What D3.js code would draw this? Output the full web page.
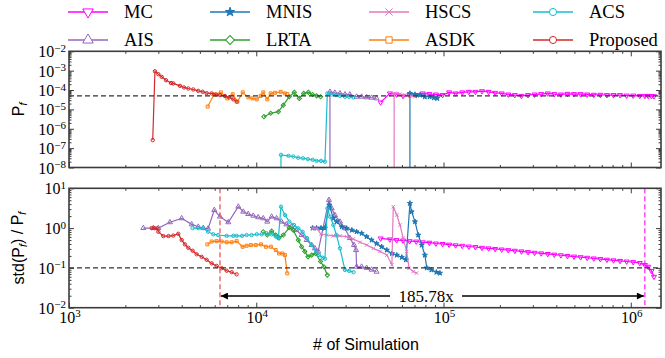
<!DOCTYPE html>
<html>
<head>
<meta charset="utf-8">
<script src="https://cdn.jsdelivr.net/npm/d3@7"></script>
<style>
  body { margin: 0; background: #fff; }
  svg { display: block; }
</style>
</head>
<body>
<svg id="chart" width="665" height="358"></svg>
<script>
// legend order (matplotlib fills the 4 columns top-down)
const methods = ["MC", "AIS", "MNIS", "LRTA", "HSCS", "ASDK", "ACS", "Proposed"];
const colors = {MC: "#ff00ff", AIS: "#9467bd", MNIS: "#1f77b4", LRTA: "#2ca02c",
                HSCS: "#e377c2", ASDK: "#ff7f0e", ACS: "#17becf", Proposed: "#d62728"};

// [# of simulation, Pf]   (0 = no failure found yet)
const pfProposed = [[2800,2.6e-7],[2877,9.3e-4],[3000,6.6e-4],[3126,4.8e-4],[3296,3.2e-4],[3504,2.3e-4],[3605,2.2e-4],[3913,1.65e-4],[4111,1.36e-4],[4335,1.2e-4],[4609,1.07e-4],[4898,9.1e-5],[5175,8.1e-5],[5432,6.9e-5],[5777,6.7e-5],[6094,5.9e-5],[6400,5.5e-5],[6805,4.9e-5],[7175,4.2e-5],[7535,3.3e-5],[7857,2.5e-5]];
const pfASDK = [[5503,1.4e-5],[5950,5.9e-5],[6470,7.6e-5],[7000,3.7e-5],[7480,6.1e-5],[7930,2.5e-5],[8470,7.6e-5],[9080,4.2e-5],[9550,3.7e-5],[10060,3.3e-5],[10560,5.0e-5],[10900,7.6e-5],[11450,3.3e-5],[11940,6.7e-5],[12590,7.2e-5],[13500,8.1e-5],[14230,6.7e-5],[14640,6.2e-5]];
const pfLRTA = [[10990,4.2e-6],[11940,6.3e-6],[13130,7.6e-6],[13940,1.66e-5],[15010,4.5e-5],[15960,7.6e-5],[16980,3.7e-5],[17920,6.7e-5],[18990,7.6e-5],[19990,5.9e-5],[21000,5.0e-5],[22050,4.5e-5]];
const pfACS = [[13000,0],[13550,4.5e-8],[14870,4.0e-8],[15770,3.7e-8],[16740,3.2e-8],[17770,3.0e-8],[18860,2.7e-8],[20010,2.5e-8],[21000,2.2e-8],[22170,2.2e-8],[23270,2.0e-8],[23960,6.7e-5],[25270,5.9e-5],[26640,5.5e-5],[27990,5.0e-5],[29760,4.5e-5],[31370,4.5e-5],[32960,4.2e-5]];
const pfAIS = [[24200,0],[24750,8.1e-5],[26300,7.2e-5],[27990,6.7e-5],[29760,5.9e-5],[31620,5.9e-5],[34350,4.5e-5],[36530,4.5e-5],[38830,4.2e-5],[41290,4.0e-5],[43900,3.7e-5]];
const pfMNIS = [[63500,0],[66170,6.7e-5],[70400,5.9e-5],[74800,5.5e-5],[79500,4.5e-5],[84300,4.5e-5],[88900,4.0e-5],[92500,3.7e-5]];
const pfHSCS = [[53500,0],[54500,6.7e-5],[58500,6.2e-5],[62200,5.5e-5],[66170,5.0e-5],[70400,4.5e-5]];

// [# of simulation, std(Pf)/Pf]
const cvProposed = [[2764,1.0],[2860,1.0],[2960,0.98],[3000,0.81],[3187,0.63],[3400,0.63],[3605,0.65],[3833,0.72],[3998,0.50],[4159,0.39],[4335,0.32],[4572,0.27],[4806,0.22],[5111,0.19],[5432,0.16],[5777,0.13],[6145,0.112],[6531,0.098],[6950,0.085],[7391,0.078],[7857,0.069]];
const cvASDK = [[5480,0.39],[5777,0.46],[6145,0.47],[6530,0.46],[6950,0.44],[7391,0.44],[7857,0.47],[8450,0.34],[8880,0.36],[9360,0.375],[9940,0.375],[10590,0.39],[11260,0.34],[11960,0.34],[12710,0.28],[13240,0.23],[13800,0.23],[14220,0.21],[14640,0.073]];
const cvLRTA = [[10900,0.81],[11450,0.67],[12080,0.84],[12710,0.67],[13240,0.57],[13940,0.67],[15000,1.02],[15750,0.89],[16770,0.50],[17470,0.34],[18160,0.26],[18900,0.19],[19770,0.21],[20770,0.23],[22050,0.145],[22950,0.107],[23960,0.066]];
const cvACS = [[4570,1.0],[4900,1.0],[5200,1.0],[5530,0.81],[5890,0.70],[6260,0.67],[6950,0.64],[7540,0.64],[7860,0.64],[8400,0.64],[8880,0.67],[9440,0.67],[10060,0.70],[10700,0.70],[11370,0.74],[12080,0.70],[12710,0.61],[13130,0.56],[13550,3.45],[14230,2.14],[15010,1.45],[15900,1.2],[16770,0.99],[17680,0.81],[18670,0.56],[19760,0.375],[20860,0.26],[21670,0.21],[22650,0.18],[23270,0.17],[23960,3.14],[24780,1.94],[25800,1.2],[26800,0.67],[27990,0.31],[29760,0.089],[31370,0.084],[33080,0.078]];
const cvAIS = [[2494,1.0],[2820,1.0],[3000,1.0],[3460,1.40],[3998,1.76],[4520,1.24],[4900,1.08],[5210,1.0],[5530,0.97],[5968,2.85],[6400,1.94],[7088,1.40],[8020,3.45],[8524,2.58],[9060,2.26],[9640,2.04],[10240,1.87],[10900,1.76],[11450,1.45],[12080,1.94],[12840,1.76],[13640,1.45],[14480,1.24],[15390,1.08],[16340,0.89],[17470,0.67],[18590,0.50],[19760,0.375],[20550,0.31],[21410,0.26],[24440,5.1],[25270,3.14],[26300,2.12],[27990,1.45],[29760,0.99],[31620,0.56],[33260,0.375],[34100,0.28],[34350,0.107],[36530,0.107],[38830,0.10],[41290,0.09],[43900,0.080]];
const cvMNIS = [[20000,1.0],[21000,1.0],[22170,1.0],[23270,1.0],[24550,3.8],[25800,1.76],[26900,1.45],[28600,1.08],[30400,0.99],[32400,0.89],[34350,0.81],[36530,0.74],[38830,0.61],[41290,0.50],[43900,0.41],[46700,0.34],[49800,0.28],[53000,0.23],[56300,0.21],[59900,0.185],[63000,0.16],[66170,4.2],[67550,2.58],[70400,1.45],[73300,0.67],[76500,0.375],[79500,0.21],[81400,0.10],[86100,0.089],[91600,0.078],[95700,0.074]];
const cvHSCS = [[20000,1.0],[21000,1.0],[22170,0.70],[23770,0.67],[25800,0.64],[27990,0.64],[30400,0.61],[32960,0.53],[35800,0.44],[38900,0.375],[42200,0.31],[45800,0.26],[49800,0.21],[53000,0.12],[53900,3.45],[56300,2.14],[58500,1.2],[60900,0.56],[63500,0.26],[65500,0.098],[68900,0.081],[71800,0.074]];

// Monte Carlo run
const nMC = [46150,51700,56100,60800,65900,71500,77500,84000,91100,98800,107100,116100,125900,136500,148000,160500,174000,188600,204500,221700,240400,260600,282600,306400,332200,360200,390500,423400,459000,497700,539600,585000,634300,687700,745600,808400,876500,950300,1030300,1117000,1190000,1239000,1290000,1330000];
const pfMCvals = [2.3e-5,6.7e-5,5.9e-5,5.0e-5,5.5e-5,5.5e-5,6.7e-5,6.2e-5,5.9e-5,5.5e-5,7.6e-5,6.7e-5,7.6e-5,8.1e-5,8.1e-5,8.7e-5,8.1e-5,7.2e-5,6.7e-5,5.9e-5,5.5e-5,5.0e-5,5.5e-5,5.9e-5,6.2e-5,6.7e-5,6.2e-5,5.9e-5,6.4e-5,6.2e-5,6.2e-5,5.9e-5,5.7e-5,5.7e-5,5.5e-5,5.5e-5,5.5e-5,5.2e-5,5.2e-5,5.0e-5,5.0e-5,5.0e-5,4.9e-5,4.8e-5];
const cvMCvals = [0.55,0.52,0.50,0.49,0.47,0.46,0.44,0.43,0.41,0.40,0.385,0.37,0.36,0.345,0.335,0.32,0.31,0.30,0.29,0.28,0.27,0.26,0.25,0.24,0.232,0.224,0.216,0.208,0.20,0.193,0.186,0.18,0.173,0.167,0.161,0.155,0.15,0.145,0.14,0.133,0.118,0.107,0.084,0.060];

const pfGolden = 5e-5;
const cvTarget = 0.1;
const nProposedDone = 6400;
const nMCDone = 1189000;
const speedupLabel = "185.78x";

const xTicks = [1e3, 1e4, 1e5, 1e6];
const topTicks = [1e-8, 1e-7, 1e-6, 1e-5, 1e-4, 1e-3, 1e-2];
const botTicks = [1e-2, 1e-1, 1e0, 1e1];

const pfData = {
  MC: nMC.map((n, i) => [n, pfMCvals[i]]),
  AIS: pfAIS, MNIS: pfMNIS, LRTA: pfLRTA, HSCS: pfHSCS, ASDK: pfASDK, ACS: pfACS, Proposed: pfProposed
};
const cvData = {
  MC: nMC.map((n, i) => [n, cvMCvals[i]]),
  AIS: cvAIS, MNIS: cvMNIS, LRTA: cvLRTA, HSCS: cvHSCS, ASDK: cvASDK, ACS: cvACS, Proposed: cvProposed
};

// marker shape per method; size = plot size, lsize = legend size (d3 symbol area)
const markers = {
  MC:       {type: d3.symbolTriangle, rot: 180, fill: false, size: 11, lsize: 48},
  AIS:      {type: d3.symbolTriangle, rot: 0, fill: false, size: 11, lsize: 48},
  MNIS:     {type: d3.symbolStar, rot: 0, fill: true, size: 8, lsize: 26},
  LRTA:     {type: d3.symbolSquare, rot: 45, fill: false, size: 9, lsize: 40},
  HSCS:     {type: d3.symbolTimes, rot: 0, fill: false, size: 9, lsize: 36},
  ASDK:     {type: d3.symbolSquare, rot: 0, fill: false, size: 9, lsize: 40},
  ACS:      {type: d3.symbolCircle, rot: 0, fill: false, size: 9, lsize: 40},
  Proposed: {type: d3.symbolCircle, rot: 0, fill: false, size: 9, lsize: 40}
};

const serif = "'Liberation Serif', 'Times New Roman', serif";
const sans = "'Liberation Sans', Arial, sans-serif";
const frameColor = "#3c3c3c";

const svg = d3.select("#chart");
const left = 69, right = 661;
const top1 = 51.3, bot1 = 167.5;
const top2 = 188.3, bot2 = 307.7;

const x = d3.scaleLog().domain([1e3, 1.45e6]).range([left, right]);
const yTop = d3.scaleLog().domain([1e-8, 1e-2]).range([bot1, top1]);
const yBot = d3.scaleLog().domain([1e-2, 1e1]).range([bot2, top2]);

function minorTicks(lo, hi) {
  const out = [];
  for (let e = Math.floor(Math.log10(lo)); e <= Math.ceil(Math.log10(hi)); e++) {
    for (let k = 2; k <= 9; k++) {
      const v = k * Math.pow(10, e);
      if (v > lo && v < hi) out.push(v);
    }
  }
  return out;
}

function supLabel(sel, exp) {
  sel.append("tspan").text("10");
  sel.append("tspan").attr("font-size", 11).attr("dy", "-0.5em")
    .text(exp < 0 ? "\u2212" + (-exp) : String(exp));
}

function drawPanel(yScale, yMaj, data, showX, clipId) {
  const y0 = yScale.range()[0], y1 = yScale.range()[1];
  const g = svg.append("g");

  svg.append("clipPath").attr("id", clipId)
    .append("rect").attr("x", left).attr("y", y1).attr("width", right - left).attr("height", y0 - y1);

  // ticks on all four sides, pointing inward
  const xMinor = minorTicks(1e3, 1.45e6);
  const yMinor = minorTicks(yScale.domain()[0], yScale.domain()[1]);
  const tickSets = [
    [d3.axisBottom(x), `translate(0,${y0})`, xTicks, xMinor],
    [d3.axisTop(x), `translate(0,${y1})`, xTicks, xMinor],
    [d3.axisLeft(yScale), `translate(${left},0)`, yMaj, yMinor],
    [d3.axisRight(yScale), `translate(${right},0)`, yMaj, yMinor]
  ];
  tickSets.forEach(([ax, tr, maj, mnr]) => {
    [[maj, 5], [mnr, 2.5]].forEach(([vals, len]) => {
      const a = g.append("g").attr("transform", tr)
        .call(ax.tickValues(vals).tickSize(-len).tickFormat(""));
      a.select(".domain").remove();
      a.selectAll("line").attr("stroke", frameColor).attr("stroke-width", 1);
    });
  });

  // y tick labels
  yMaj.forEach(v => {
    const t = g.append("text").attr("x", left - 3).attr("y", yScale(v) + 6)
      .attr("text-anchor", "end").attr("font-family", serif).attr("font-size", 16);
    supLabel(t, Math.round(Math.log10(v)));
  });
  if (showX) {
    xTicks.forEach(v => {
      const t = g.append("text").attr("x", x(v) + 1).attr("y", y0 + 15)
        .attr("text-anchor", "middle").attr("font-family", serif).attr("font-size", 16);
      supLabel(t, Math.round(Math.log10(v)));
    });
  }

  const plot = g.append("g").attr("clip-path", `url(#${clipId})`);
  const yy = v => v > 0 ? yScale(v) : y0 + 20000;
  const line = d3.line().x(d => x(d[0])).y(d => yy(d[1]));

  methods.forEach(m => {
    const pts = data[m];
    const c = colors[m];
    plot.append("path").datum(pts).attr("d", line)
      .attr("fill", "none").attr("stroke", c).attr("stroke-width", 1.2);
    const mk = markers[m];
    plot.selectAll(null).data(pts.filter(d => d[1] > 0)).enter()
      .append("path")
      .attr("d", d3.symbol().type(mk.type).size(mk.size))
      .attr("transform", d => `translate(${x(d[0])},${yy(d[1])}) rotate(${mk.rot})`)
      .attr("fill", mk.fill ? c : "none")
      .attr("stroke", c).attr("stroke-width", 1);
  });

  g.append("rect").attr("x", left).attr("y", y1).attr("width", right - left).attr("height", y0 - y1)
    .attr("fill", "none").attr("stroke", frameColor).attr("stroke-width", 1.6);
  return plot;
}

// top panel: Pf
const p1 = drawPanel(yTop, topTicks, pfData, false, "clipTop");
p1.append("line").attr("x1", left).attr("x2", right)
  .attr("y1", yTop(pfGolden)).attr("y2", yTop(pfGolden))
  .attr("stroke", "#333").attr("stroke-width", 1.2).attr("stroke-dasharray", "5,3");

// bottom panel: std(Pf)/Pf
const p2 = drawPanel(yBot, botTicks, cvData, true, "clipBot");
p2.append("line").attr("x1", left).attr("x2", right)
  .attr("y1", yBot(cvTarget)).attr("y2", yBot(cvTarget))
  .attr("stroke", "#333").attr("stroke-width", 1.2).attr("stroke-dasharray", "5,3");
p2.append("line").attr("x1", x(nProposedDone)).attr("x2", x(nProposedDone))
  .attr("y1", top2).attr("y2", bot2)
  .attr("stroke", "#ee5555").attr("stroke-width", 1.3).attr("stroke-dasharray", "5,3");
p2.append("line").attr("x1", x(nMCDone)).attr("x2", x(nMCDone))
  .attr("y1", top2).attr("y2", bot2)
  .attr("stroke", colors.MC).attr("stroke-width", 1.1).attr("stroke-dasharray", "5,3");

// speed-up arrow
const ay = 296;
svg.append("defs").html(
  '<marker id="ah" viewBox="0 0 10 10" refX="10" refY="5" markerWidth="9" markerHeight="7" markerUnits="userSpaceOnUse" orient="auto-start-reverse">' +
  '<path d="M0,0 L10,5 L0,10 z" fill="#000"/></marker>');
svg.append("line").attr("x1", x(nProposedDone) + 1).attr("x2", 390).attr("y1", ay).attr("y2", ay)
  .attr("stroke", "#000").attr("stroke-width", 1.5).attr("marker-start", "url(#ah)");
svg.append("line").attr("x1", 462).attr("x2", x(nMCDone) - 1).attr("y1", ay).attr("y2", ay)
  .attr("stroke", "#000").attr("stroke-width", 1.5).attr("marker-end", "url(#ah)");
svg.append("text").attr("x", 426).attr("y", ay + 6).attr("text-anchor", "middle")
  .attr("font-family", serif).attr("font-size", 17).text(speedupLabel);

// axis titles
const yl1 = svg.append("text").attr("transform", `translate(24,${(top1 + bot1) / 2}) rotate(-90)`)
  .attr("text-anchor", "middle").attr("font-family", sans).attr("font-size", 16);
yl1.append("tspan").text("P");
yl1.append("tspan").attr("font-size", 11).attr("font-style", "italic").attr("dy", "0.3em").text("f");

const yl2 = svg.append("text").attr("transform", `translate(24,${(top2 + bot2) / 2}) rotate(-90)`)
  .attr("text-anchor", "middle").attr("font-family", sans).attr("font-size", 16);
yl2.append("tspan").text("std(P");
yl2.append("tspan").attr("font-size", 11).attr("font-style", "italic").attr("dy", "0.3em").text("f");
yl2.append("tspan").attr("dy", "-0.3em").text(") / P");
yl2.append("tspan").attr("font-size", 11).attr("font-style", "italic").attr("dy", "0.3em").text("f");

svg.append("text").attr("x", 366).attr("y", 350).attr("text-anchor", "middle")
  .attr("font-family", sans).attr("font-size", 16).text("# of Simulation");

// legend, 4 columns x 2 rows
const legCols = [68, 210, 369, 533];
const legRows = [12, 40];
methods.forEach((m, i) => {
  const cx = legCols[Math.floor(i / 2)], cy = legRows[i % 2];
  const c = colors[m], mk = markers[m];
  const lg = svg.append("g");
  lg.append("line").attr("x1", cx).attr("x2", cx + 40).attr("y1", cy).attr("y2", cy)
    .attr("stroke", c).attr("stroke-width", 1.3);
  lg.append("path")
    .attr("d", d3.symbol().type(mk.type).size(mk.lsize))
    .attr("transform", `translate(${cx + 20},${cy}) rotate(${mk.rot})`)
    .attr("fill", mk.fill ? c : "#fff").attr("stroke", c).attr("stroke-width", 1);
  lg.append("text").attr("x", cx + 56).attr("y", cy + 6).attr("font-family", serif)
    .attr("font-size", 18.5).text(m);
});
</script>
</body>
</html>
